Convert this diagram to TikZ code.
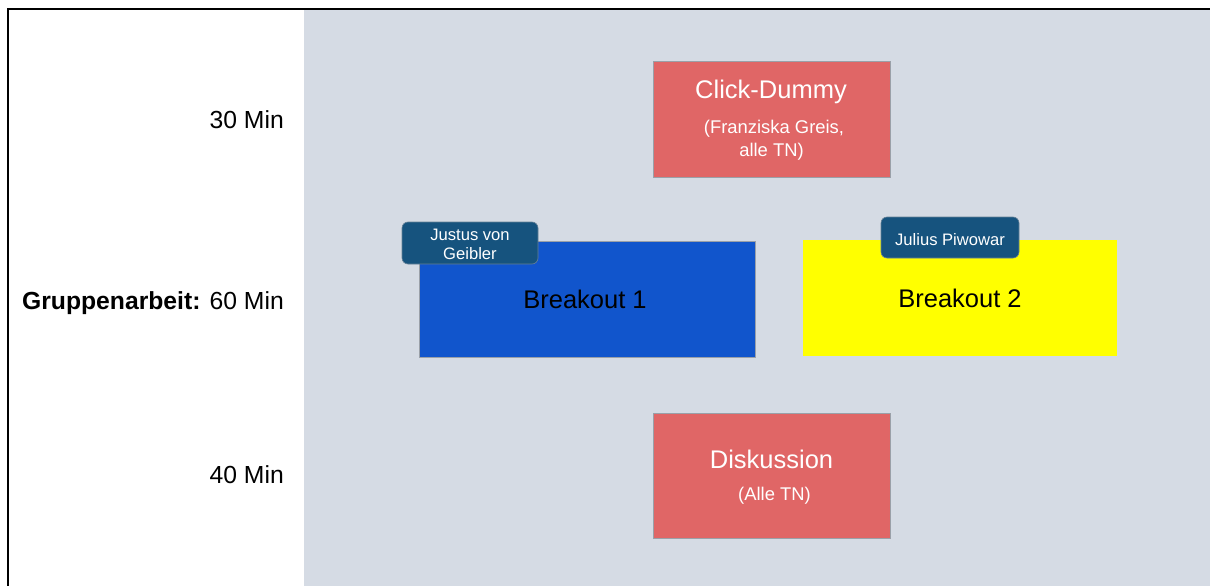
\documentclass[tikz,border=0pt]{standalone}
\usepackage{fontspec}
\setmainfont{Liberation Sans}
\definecolor{panelgray}{HTML}{D5DBE4}
\definecolor{boxred}{HTML}{E06666}
\definecolor{boxblue}{HTML}{1155CC}
\definecolor{boxyellow}{HTML}{FFFF00}
\definecolor{tagblue}{HTML}{16537E}
\definecolor{edgegray}{HTML}{9AA0A8}
\newcommand{\fsz}[1]{\fontsize{#1}{#1}\selectfont}
\tikzset{
  box/.style={draw=edgegray, line width=0.8pt, inner sep=0pt},
  tagbox/.style={draw=edgegray!60!tagblue, fill=tagblue, rounded corners=6pt, line width=0.6pt, inner sep=0pt},
  bigtext/.style={anchor=base, inner sep=0pt, font=\fsz{25.5}},
  smalltext/.style={anchor=base, inner sep=0pt, font=\fsz{18.4}, text=white},
  tagtext/.style={anchor=base, inner sep=0pt, font=\fsz{16.6}, text=white},
  timetext/.style={anchor=base east, inner sep=0pt, font=\fsz{24.7}},
}
\begin{document}
\begin{tikzpicture}[x=1pt, y=-1pt]
\useasboundingbox (0,0) rectangle (1210,586);
\clip (0,0) rectangle (1210,586);
% background
\fill[white] (0,0) rectangle (1210,586);
\fill[panelgray] (304,10) rectangle (1215,590);
\draw[black, line width=2pt] (8,595) -- (8,9.5) -- (1220,9.5);

% time labels
\node[timetext] (t30) at (284,128) {30 Min};
\node[timetext] (t60) at (284,309) {\textbf{Gruppenarbeit:} 60 Min};
\node[timetext] (t40) at (284,483) {40 Min};

% Click-Dummy
\node[box, fill=boxred, minimum width=237pt, minimum height=116pt] (click) at (771.5,119) {};
\node[bigtext, text=white] (clicktitle) at (771,99) {Click-Dummy};
\node[smalltext] (clicksub1) at (774,133) {(Franziska Greis,};
\node[smalltext] (clicksub2) at (771.5,156) {alle TN)};

% Breakout 1
\node[box, fill=boxblue, minimum width=336pt, minimum height=116pt] (b1) at (587,299) {};
\node[bigtext, text=black] (b1text) at (585,308) {Breakout 1};
\node[tagbox, minimum width=136pt, minimum height=42pt] (justus) at (470,243) {};
\node[tagtext] (justus1) at (470,240) {Justus von};
\node[tagtext] (justus2) at (470,259) {Geibler};

% Breakout 2
\node[inner sep=0pt, fill=boxyellow, minimum width=314pt, minimum height=116pt] (b2) at (960,298) {};
\node[bigtext, text=black] (b2text) at (960,307) {Breakout 2};
\node[tagbox, minimum width=138pt, minimum height=41pt] (julius) at (950,237.5) {};
\node[tagtext] (julius1) at (950,245) {Julius Piwowar};

% Diskussion
\node[box, fill=boxred, minimum width=237pt, minimum height=125pt] (disk) at (771.5,475.5) {};
\node[bigtext, text=white] (disktitle) at (771.5,468) {Diskussion};
\node[smalltext] (disksub) at (774.5,500) {(Alle TN)};
\end{tikzpicture}
\end{document}
